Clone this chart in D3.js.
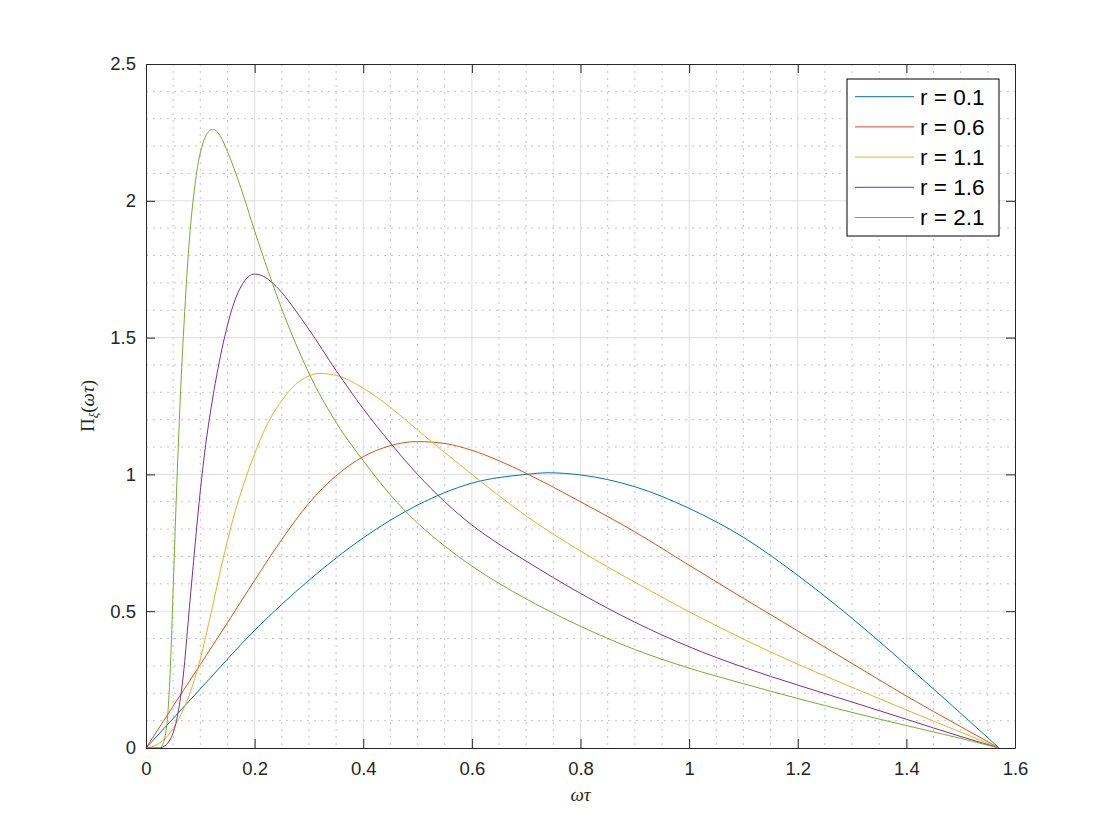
<!DOCTYPE html>
<html><head><meta charset="utf-8">
<script src="https://cdn.jsdelivr.net/npm/d3@7"></script>
<style>body{margin:0;background:#fff}svg{display:block}</style>
</head><body>
<svg id="chart" width="1120" height="840"></svg>
<script>
// ---- data ----
const seriesNames = ["r = 0.1", "r = 0.6", "r = 1.1", "r = 1.6", "r = 2.1"];
const seriesColors = ["#0072BD", "#D95319", "#EDB120", "#7E2F8E", "#77AC30"];
const xTickValues = [0, 0.2, 0.4, 0.6, 0.8, 1, 1.2, 1.4, 1.6];
const xTickLabels = ["0", "0.2", "0.4", "0.6", "0.8", "1", "1.2", "1.4", "1.6"];
const yTickValues = [0, 0.5, 1, 1.5, 2, 2.5];
const yTickLabels = ["0", "0.5", "1", "1.5", "2", "2.5"];

const r01 = [[0,0],[0.1,0.216],[0.2,0.43],[0.3,0.613],[0.4,0.768],[0.5,0.888],[0.6,0.968],[0.7,1.0],[0.74,1.006],[0.8,0.998],[0.9,0.955],[1.0,0.876],[1.1,0.77],[1.2,0.631],[1.3,0.474],[1.4,0.303],[1.5,0.127],[1.5708,0]];
const r06 = [[0,0],[0.05,0.153],[0.1,0.305],[0.15,0.458],[0.2,0.613],[0.25,0.762],[0.3,0.895],[0.35,0.995],[0.4,1.065],[0.45,1.105],[0.5,1.12],[0.55,1.113],[0.6,1.088],[0.65,1.05],[0.7,1.004],[0.75,0.953],[0.8,0.90],[0.9,0.79],[1.0,0.668],[1.1,0.547],[1.2,0.428],[1.3,0.309],[1.4,0.19],[1.5,0.078],[1.5708,0]];
const r11 = [[0,0],[0.02,0.012],[0.04,0.045],[0.06,0.105],[0.08,0.195],[0.1,0.325],[0.12,0.495],[0.14,0.675],[0.16,0.835],[0.18,0.965],[0.2,1.075],[0.22,1.17],[0.25,1.27],[0.275,1.328],[0.3,1.36],[0.32,1.369],[0.35,1.362],[0.4,1.315],[0.45,1.245],[0.5,1.162],[0.55,1.08],[0.6,1.0],[0.65,0.922],[0.7,0.848],[0.8,0.72],[0.9,0.606],[1.0,0.498],[1.1,0.398],[1.2,0.306],[1.3,0.222],[1.4,0.139],[1.5,0.058],[1.5708,0]];
const r16 = [[0,0],[0.025,0],[0.03,0.003],[0.035,0.008],[0.04,0.018],[0.045,0.033],[0.05,0.055],[0.055,0.09],[0.06,0.14],[0.065,0.205],[0.07,0.29],[0.075,0.40],[0.08,0.515],[0.085,0.625],[0.09,0.735],[0.1,0.94],[0.11,1.11],[0.12,1.245],[0.13,1.36],[0.14,1.46],[0.15,1.545],[0.16,1.615],[0.17,1.667],[0.18,1.703],[0.19,1.725],[0.2,1.732],[0.21,1.729],[0.22,1.72],[0.23,1.705],[0.25,1.665],[0.275,1.60],[0.3,1.53],[0.35,1.38],[0.4,1.24],[0.45,1.115],[0.5,1.0],[0.55,0.90],[0.6,0.815],[0.65,0.745],[0.7,0.683],[0.8,0.565],[0.9,0.46],[1.0,0.37],[1.1,0.295],[1.2,0.23],[1.3,0.168],[1.4,0.105],[1.5,0.042],[1.5708,0]];
const r21 = [[0,0],[0.025,0],[0.03,0.01],[0.035,0.04],[0.04,0.12],[0.045,0.30],[0.05,0.58],[0.055,0.87],[0.06,1.13],[0.065,1.36],[0.07,1.55],[0.075,1.72],[0.08,1.86],[0.085,1.97],[0.09,2.055],[0.095,2.125],[0.1,2.175],[0.105,2.212],[0.11,2.237],[0.115,2.252],[0.12,2.26],[0.125,2.26],[0.13,2.254],[0.135,2.242],[0.14,2.225],[0.15,2.18],[0.175,2.045],[0.2,1.89],[0.25,1.605],[0.3,1.37],[0.35,1.19],[0.4,1.05],[0.45,0.925],[0.5,0.822],[0.55,0.738],[0.6,0.665],[0.7,0.545],[0.8,0.445],[0.9,0.36],[1.0,0.292],[1.1,0.235],[1.2,0.181],[1.3,0.13],[1.4,0.082],[1.5,0.035],[1.5708,0]];
const seriesData = [r01, r06, r11, r16, r21];

// ---- layout ----
const L = 146, R = 1015, T = 64, B = 748;
const svg = d3.select("#chart");
const x = d3.scaleLinear().domain([0, 1.6]).range([L, R]);
const y = d3.scaleLinear().domain([0, 2.5]).range([B, T]);
const axisColor = "#262626";
const sans = "'Liberation Sans', Arial, Helvetica, sans-serif";
const serif = "'Liberation Serif', 'DejaVu Serif', serif";

svg.append("rect").attr("width", 1120).attr("height", 840).attr("fill", "#fff");
svg.append("rect").attr("x", L).attr("y", T).attr("width", R - L).attr("height", B - T).attr("fill", "#fff");

// minor grid
const near = (v, arr) => arr.some(a => Math.abs(a - v) < 1e-9);
const xMinor = d3.range(0, 1.6001, 0.05).map(v => +v.toFixed(3)).filter(v => !near(v, xTickValues));
const yMinor = d3.range(0, 2.5001, 0.1).map(v => +v.toFixed(3)).filter(v => !near(v, yTickValues));
const grid = svg.append("g");
grid.selectAll(".mx").data(xMinor).enter().append("line")
  .attr("x1", d => x(d)).attr("x2", d => x(d)).attr("y1", T).attr("y2", B)
  .attr("stroke", "#b5b5b5").attr("stroke-width", 0.8).attr("stroke-dasharray", "2,5");
grid.selectAll(".my").data(yMinor).enter().append("line")
  .attr("y1", d => y(d)).attr("y2", d => y(d)).attr("x1", L).attr("x2", R)
  .attr("stroke", "#b5b5b5").attr("stroke-width", 0.8).attr("stroke-dasharray", "2,5");
// major grid
grid.selectAll(".gx").data(xTickValues.slice(1, -1)).enter().append("line")
  .attr("x1", d => x(d)).attr("x2", d => x(d)).attr("y1", T).attr("y2", B)
  .attr("stroke", "#dedede").attr("stroke-width", 1);
grid.selectAll(".gy").data(yTickValues.slice(1, -1)).enter().append("line")
  .attr("y1", d => y(d)).attr("y2", d => y(d)).attr("x1", L).attr("x2", R)
  .attr("stroke", "#dedede").attr("stroke-width", 1);

// curves
const line = d3.line().x(d => x(d[0])).y(d => y(d[1])).curve(d3.curveMonotoneX);
svg.append("g").selectAll("path").data(seriesData).enter().append("path")
  .attr("d", d => line(d)).attr("fill", "none")
  .attr("stroke", (d, i) => seriesColors[i]).attr("stroke-width", 1);

// axes (ticks inward, box)
function styleAxis(g) {
  g.select(".domain").attr("stroke", axisColor).attr("stroke-width", 1);
  g.selectAll(".tick line").attr("stroke", axisColor).attr("stroke-width", 1);
  g.selectAll(".tick text").attr("fill", axisColor).attr("font-family", sans).attr("font-size", "18.5px");
}
svg.append("g").attr("transform", `translate(0,${B})`)
  .call(d3.axisBottom(x).tickValues(xTickValues).tickFormat((d, i) => xTickLabels[i]).tickSizeInner(-9).tickSizeOuter(0).tickPadding(14))
  .call(styleAxis);
svg.append("g").attr("transform", `translate(${L},0)`)
  .call(d3.axisLeft(y).tickValues(yTickValues).tickFormat((d, i) => yTickLabels[i]).tickSizeInner(-9).tickSizeOuter(0).tickPadding(10))
  .call(styleAxis);
svg.append("g").attr("transform", `translate(0,${T})`)
  .call(d3.axisTop(x).tickValues(xTickValues).tickFormat("").tickSizeInner(-9).tickSizeOuter(0))
  .call(styleAxis);
svg.append("g").attr("transform", `translate(${R},0)`)
  .call(d3.axisRight(y).tickValues(yTickValues).tickFormat("").tickSizeInner(-9).tickSizeOuter(0))
  .call(styleAxis);

// axis labels
svg.append("text").attr("x", (L + R) / 2).attr("y", 801)
  .attr("text-anchor", "middle").attr("font-family", serif).attr("font-size", "19px")
  .attr("font-style", "italic").attr("fill", axisColor).text("ωτ");
const yl = svg.append("text").attr("transform", `translate(94,${(T + B) / 2}) rotate(-90)`)
  .attr("text-anchor", "middle").attr("font-family", serif).attr("font-size", "19px").attr("fill", axisColor);
yl.append("tspan").text("Π");
yl.append("tspan").attr("font-style", "italic").attr("font-size", "13px").attr("dy", "4").text("ξ");
yl.append("tspan").attr("dy", "-4").text("(");
yl.append("tspan").attr("font-style", "italic").text("ωτ");
yl.append("tspan").text(")");

// legend
const lg = svg.append("g");
lg.append("rect").attr("x", 847).attr("y", 79).attr("width", 152).attr("height", 157)
  .attr("fill", "#fff").attr("stroke", "#000").attr("stroke-width", 1);
seriesNames.forEach((name, i) => {
  const yy = 96.7 + i * 30.2;
  lg.append("line").attr("x1", 855).attr("x2", 914).attr("y1", yy).attr("y2", yy)
    .attr("stroke", seriesColors[i]).attr("stroke-width", 1);
  lg.append("text").attr("x", 920).attr("y", yy).attr("dy", "0.35em")
    .attr("font-family", sans).attr("font-size", "22.5px").attr("fill", "#000").text(name);
});
</script>
</body></html>
